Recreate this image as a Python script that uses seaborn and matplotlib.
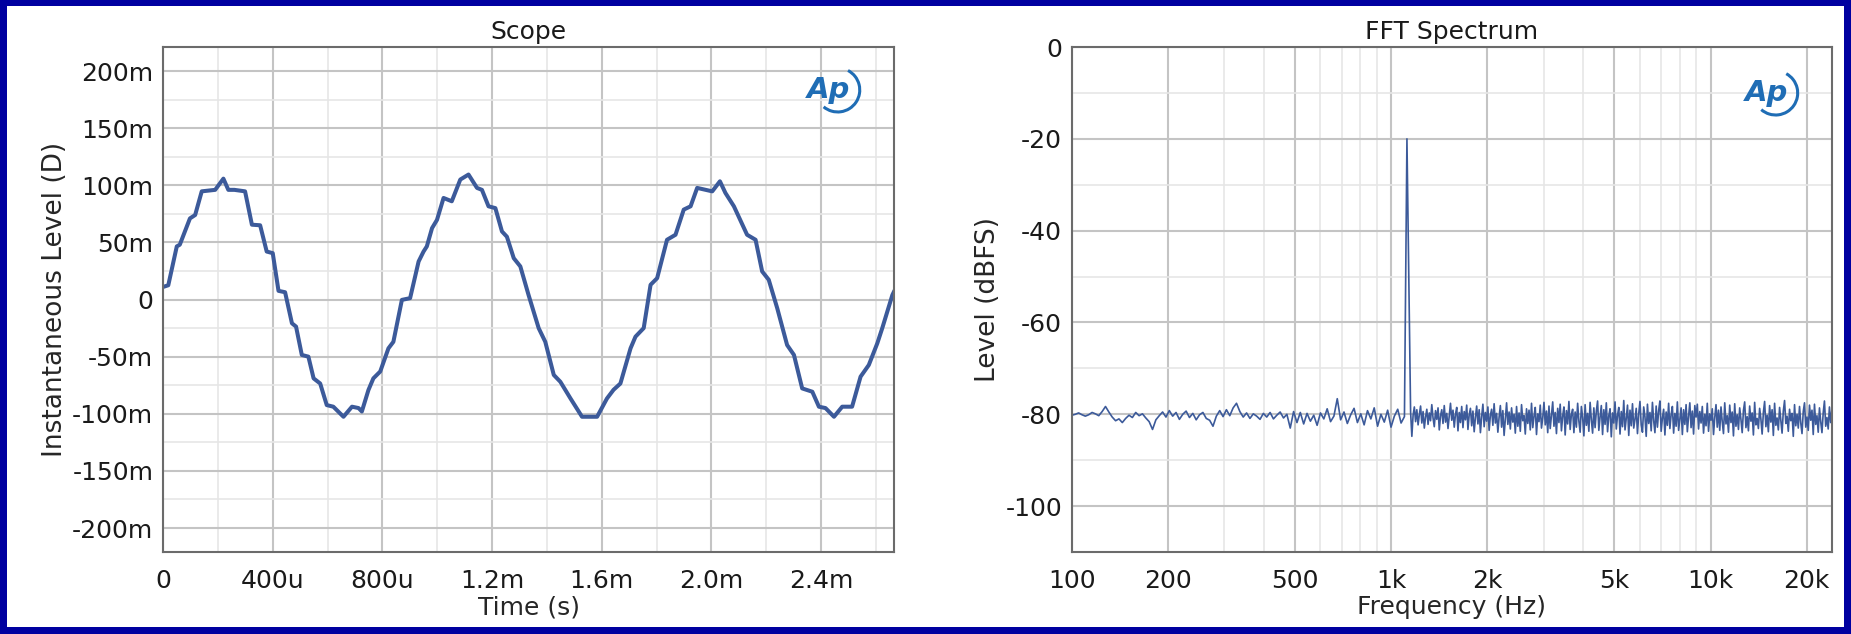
import numpy as np
import pandas as pd
import seaborn as sns
import matplotlib.pyplot as plt
from matplotlib.patches import Rectangle, Arc
from matplotlib.ticker import FixedLocator, MultipleLocator, NullFormatter

# Scope trace (time in us, level in mD)
scope_time_us = [0, 19, 50, 61, 98, 117, 141, 190, 220, 238, 260, 299, 324, 354, 378, 400,
                 421, 445, 470, 485, 506, 530, 549, 573, 597, 621, 658, 689, 713, 725, 749,
                 767, 792, 822, 840, 871, 901, 932, 950, 962, 981, 999, 1023, 1053, 1084,
                 1114, 1145, 1163, 1187, 1212, 1236, 1254, 1279, 1303, 1333, 1370, 1394,
                 1425, 1449, 1486, 1528, 1583, 1619, 1643, 1668, 1705, 1723, 1753, 1778,
                 1802, 1838, 1869, 1899, 1924, 1948, 2003, 2031, 2051, 2082, 2130, 2161,
                 2185, 2209, 2240, 2276, 2301, 2331, 2368, 2392, 2416, 2447, 2477, 2513,
                 2544, 2574, 2605, 2623, 2660, 2668]
scope_level_m = [11, 12.5, 46.5, 48, 71, 74, 94.7, 96, 105.8, 96, 96, 94.7, 65.5, 65, 42, 40.6,
                 7.6, 6.4, -20.8, -23.7, -48.5, -50, -69, -73.5, -92.4, -93.8, -102.6, -93.8,
                 -95, -98, -79.2, -69, -63, -42.7, -37, -0.3, 1.2, 33.3, 42, 46.5, 62.5, 69.7,
                 88.9, 86, 105, 109.4, 97.7, 96, 81.6, 80, 59.6, 55, 36.2, 29, 4, -25.1, -37,
                 -66, -72, -86.6, -102.6, -102.6, -86.6, -79, -73.5, -42.7, -32.5, -25, 12.9,
                 18.7, 52.3, 56.7, 78.7, 81.6, 97.7, 94.7, 103.5, 93.3, 81.6, 56.7, 52.3,
                 24.6, 17.3, -7.6, -39.8, -48.5, -77.8, -80.7, -93.8, -95, -102.6, -93.8,
                 -93.8, -67.5, -57.3, -38.3, -25.1, 4, 8]

scope_xticks = [0, 400, 800, 1200, 1600, 2000, 2400]
scope_xlabels = ["0", "400u", "800u", "1.2m", "1.6m", "2.0m", "2.4m"]
scope_yticks = [200, 150, 100, 50, 0, -50, -100, -150, -200]
scope_ylabels = ["200m", "150m", "100m", "50m", "0", "-50m", "-100m", "-150m", "-200m"]

# FFT spectrum (dBFS)
noise_below_tone = [
    -80.2, -80.0, -79.7, -80.1, -80.4, -80.1, -79.6, -79.9, -80.3, -79.4, -78.3,
    -79.5, -80.6, -81.4, -81.0, -81.8, -80.9, -80.2, -80.7, -79.6, -80.3,
    -79.9, -80.8, -81.6, -83.3, -81.2, -80.3, -79.5, -80.6, -79.2,
    -80.4, -79.6, -81.1, -80.0, -79.3, -80.7, -79.8, -81.2, -80.1, -79.6, -80.9,
    -81.3, -82.6, -80.4, -79.2, -80.5, -79.0, -80.3, -78.6, -77.6, -79.4,
    -80.6, -79.7, -80.9, -79.9, -80.4, -81.1, -79.8, -80.6, -79.6, -81.0, -80.2, -79.5, -80.8, -80.0,
    -83.0, -79.4, -81.8, -79.6, -82.1, -79.8, -81.5, -80.2, -82.4, -79.7, -81.0, -78.8, -81.6, -80.4,
    -76.6,
    -81.2, -79.5, -82.0, -80.1, -78.7, -81.8, -79.9, -82.3, -79.2, -81.0, -78.6, -82.6, -80.0,
    -81.7, -79.1, -82.8, -80.4, -78.9, -81.9, -80.5]
tone_freq = [1120]
tone_level = [-20.0]
noise_above_tone = [
    -79.5, -84.8, -80.2, -78.4, -81.6, -79.0, -82.3, -80.1, -78.2, -81.9, -79.4, -83.0, -80.6,
    -78.9, -82.2, -79.7, -81.4, -77.9, -80.8, -82.7, -79.2, -81.1, -78.6, -83.4, -80.3, -79.0,
    -82.0, -78.1, -81.7, -79.8, -83.1, -80.4, -77.6, -81.3, -79.1, -82.8, -80.0, -78.5, -83.6,
    -79.6, -81.8, -78.3,
    -82.9, -79.4, -81.2, -78.0, -83.3, -80.1, -78.7, -82.5, -79.3, -83.8, -80.7, -78.2, -82.1,
    -79.0, -84.0, -80.5, -77.8, -82.7, -79.6, -81.5, -78.4, -83.5, -80.2, -78.9, -82.4, -77.7,
    -81.9, -79.8, -83.9, -80.6, -78.1, -82.8, -79.2, -84.6, -80.9, -77.5, -82.2, -79.5, -83.2,
    -78.6, -81.7, -80.0, -84.1, -78.3, -82.6, -79.7, -83.7, -77.9, -81.4, -80.3, -84.3, -78.8,
    -82.0, -79.1, -83.4, -77.6, -82.9, -80.4, -78.5, -84.4, -79.9, -81.6, -78.0, -83.0, -80.8,
    -77.4, -82.3, -79.3, -84.0,
    -78.2, -83.1, -80.1, -77.3, -82.6, -79.6, -84.2, -78.7, -81.8, -77.8, -83.6, -80.4, -78.4,
    -84.5, -79.2, -82.1, -77.2, -83.3, -80.0, -78.9, -84.0, -79.5, -82.8, -77.6, -81.5, -83.9,
    -78.3, -80.7, -84.7, -77.9, -82.4, -79.8, -83.7, -77.4, -81.2, -84.1, -78.6, -82.9, -79.3,
    -77.1, -83.5, -80.6, -78.1, -84.4, -79.0, -82.2, -77.5, -83.8, -80.3, -78.8, -84.9, -79.7,
    -81.9, -77.3, -83.2, -80.2, -78.5, -84.3, -79.4, -82.7, -77.0, -83.4, -80.9, -78.0, -84.6,
    -79.1, -82.5, -77.7, -83.0, -81.1, -78.7, -84.2, -79.9, -77.2, -82.3, -83.9, -78.4, -80.5,
    -84.8, -77.8, -82.0, -79.6, -83.6, -77.4, -81.4, -84.0, -78.2, -82.8, -79.2, -77.1, -83.7,
    -80.8, -78.9, -84.5, -79.5, -82.4, -77.6, -83.1, -80.1, -78.3, -84.1, -79.8, -82.6, -77.3,
    -83.5, -81.0, -78.6, -84.4, -79.0, -82.2, -77.9, -83.8, -80.4, -77.5, -82.9, -79.3, -84.3, -78.1,
    -80.6, -77.8, -83.2, -79.4, -81.9, -78.3, -84.1, -80.0, -82.5, -77.6, -83.7, -79.9, -81.3,
    -78.8, -84.4, -80.7, -77.9, -82.8, -79.1, -83.5, -78.4, -81.6, -84.2, -77.5, -82.1, -80.3,
    -83.9, -78.0, -81.8, -79.5, -84.7, -77.7, -82.6, -80.1, -83.3, -78.6, -81.1, -84.0, -79.2,
    -77.3, -82.9, -80.5, -83.6, -78.2, -81.5, -79.7, -84.5, -77.4, -82.3, -80.9, -83.1, -78.7,
    -81.0, -84.3, -79.6, -77.2, -82.7, -80.2, -83.8, -78.1, -81.7, -79.0, -84.6, -77.6, -82.4,
    -80.8, -83.4, -78.5, -81.2, -84.1, -79.3, -77.0, -82.0, -80.4, -83.7, -78.9, -81.4, -79.8,
    -84.8, -77.9, -82.5, -80.0, -83.0, -78.3, -81.9, -84.2, -79.4, -77.5, -82.8, -80.6, -83.5,
    -78.0, -81.3, -79.1, -84.4, -77.8, -82.2, -80.3, -83.9, -78.6, -81.6, -84.0, -79.7, -77.1,
    -82.6, -80.7, -83.2, -78.4, -81.8, -79.0]

fft_xticks = [100, 200, 500, 1000, 2000, 5000, 10000, 20000]
fft_xlabels = ["100", "200", "500", "1k", "2k", "5k", "10k", "20k"]
fft_xminor = [300, 400, 600, 700, 800, 900, 3000, 4000, 6000, 7000, 8000, 9000]
fft_yticks = [0, -20, -40, -60, -80, -100]
fft_ylabels = ["0", "-20", "-40", "-60", "-80", "-100"]

scope = pd.DataFrame({"time": scope_time_us, "level": scope_level_m})
fft = pd.DataFrame({
    "freq": np.concatenate([np.geomspace(100, 1100, len(noise_below_tone)), tone_freq,
                            np.geomspace(1150, 24000, len(noise_above_tone))]),
    "level": noise_below_tone + tone_level + noise_above_tone,
})

sns.set_theme(style="whitegrid")
plt.rcParams["font.family"] = ["DejaVu Sans"]
plt.rcParams["text.color"] = "#1a1a1a"

line_color = "#3c5a9a"
logo_color = "#1f6db5"

fig = plt.figure(figsize=(18.51, 6.34), dpi=100, facecolor="#0000a0")
fig.add_artist(Rectangle((7 / 1851, 7 / 634), 1837 / 1851, 621 / 634, transform=fig.transFigure,
                         facecolor="white", edgecolor="none", zorder=-1))

ax1 = fig.add_axes([0.0881, 0.1293, 0.3949, 0.7965])
ax2 = fig.add_axes([0.5791, 0.1293, 0.4106, 0.7965])

sns.lineplot(data=scope, x="time", y="level", ax=ax1, color=line_color, linewidth=2.9)
sns.lineplot(data=fft, x="freq", y="level", ax=ax2, color=line_color, linewidth=1.2)

# scope axes
ax1.set_xlim(0, 2666)
ax1.set_ylim(-221, 221)
ax1.set_xticks(scope_xticks)
ax1.set_xticklabels(scope_xlabels)
ax1.set_yticks(scope_yticks)
ax1.set_yticklabels(scope_ylabels)
ax1.xaxis.set_minor_locator(MultipleLocator(200))
ax1.yaxis.set_minor_locator(MultipleLocator(25))
ax1.set_title("Scope", fontsize=18, pad=6)
ax1.set_xlabel("Time (s)", fontsize=18, labelpad=2)
ax1.set_ylabel("Instantaneous Level (D)", fontsize=19, labelpad=3)

# spectrum axes
ax2.set_xscale("log")
ax2.set_xlim(100, 24000)
ax2.set_ylim(-110, 0)
ax2.xaxis.set_major_locator(FixedLocator(fft_xticks))
ax2.set_xticklabels(fft_xlabels)
ax2.xaxis.set_minor_locator(FixedLocator(fft_xminor))
ax2.xaxis.set_minor_formatter(NullFormatter())
ax2.set_yticks(fft_yticks)
ax2.set_yticklabels(fft_ylabels)
ax2.yaxis.set_minor_locator(MultipleLocator(10))
ax2.set_title("FFT Spectrum", fontsize=18, pad=6)
ax2.set_xlabel("Frequency (Hz)", fontsize=18, labelpad=2)
ax2.set_ylabel("Level (dBFS)", fontsize=19, labelpad=3)

for ax, lx, ly in [(ax1, 0.919, 0.915), (ax2, 0.922, 0.909)]:
    ax.set_facecolor("white")
    ax.grid(which="major", color="#c4c4c4", linewidth=1.5)
    ax.grid(which="minor", color="#e6e6e6", linewidth=1.2)
    ax.tick_params(which="both", length=0)
    ax.tick_params(axis="x", labelsize=18, pad=12, colors="#1a1a1a")
    ax.tick_params(axis="y", labelsize=18, pad=7, colors="#1a1a1a")
    for s in ax.spines.values():
        s.set_visible(True)
        s.set_color("#6b6b6b")
        s.set_linewidth(1.5)
    # Ap logo
    ax.text(lx - 0.008, ly, "Ap", transform=ax.transAxes, fontsize=21, fontweight="bold",
            fontstyle="italic", color=logo_color, ha="center", va="center", zorder=5)
    w = 44 / (ax.get_position().width * 1851)
    h = 44 / (ax.get_position().height * 634)
    ax.add_patch(Arc((lx + 0.004, ly), w, h, theta1=-120, theta2=70, transform=ax.transAxes,
                     color=logo_color, linewidth=2.2, zorder=5))

fig.savefig("out.png", dpi=100, facecolor=fig.get_facecolor())
